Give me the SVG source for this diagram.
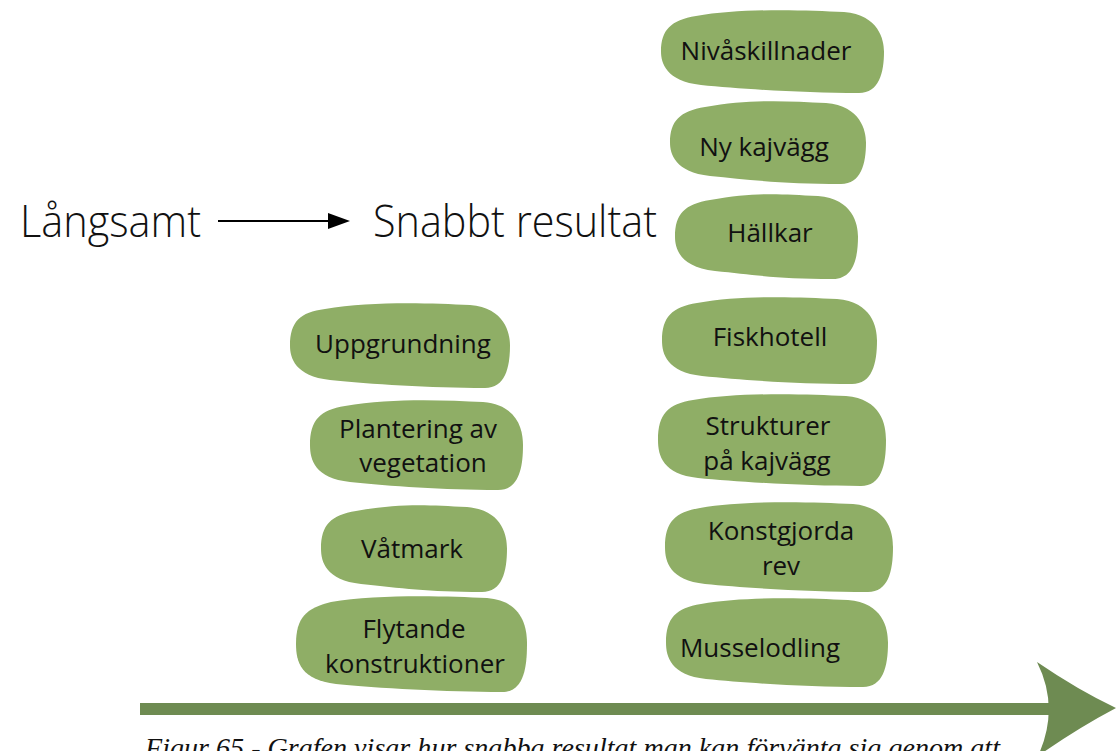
<svg xmlns="http://www.w3.org/2000/svg" width="1116" height="751" viewBox="0 0 1116 751">
<style>
.blob{fill:#8fae66;}
.lbl{font-family:"Open Sans","Noto Sans",sans-serif;font-size:26px;fill:#111;text-anchor:middle;}
.big{font-family:"Open Sans","Noto Sans",sans-serif;font-weight:300;font-size:44px;fill:#111;}
.cap{font-family:"Liberation Serif",serif;font-style:italic;font-size:27px;fill:#111;}
</style>
<defs>
<marker id="ah" viewBox="0 0 10 10" refX="10" refY="5" markerWidth="10" markerHeight="10" markerUnits="userSpaceOnUse" orient="auto">
<path d="M0,0 L10,5 L0,10 Z" fill="#000"/>
</marker>
</defs>
<rect width="1116" height="751" fill="#fff"/>
<text class="big" x="20" y="237" textLength="181" lengthAdjust="spacingAndGlyphs">Långsamt</text>
<text class="big" x="373" y="237" textLength="284" lengthAdjust="spacingAndGlyphs">Snabbt resultat</text>
<g id="connectors">
<line x1="218" y1="221" x2="332" y2="221" stroke="#000" stroke-width="2"/>
<path d="M328,213 L350,221 L328,229 Z" fill="#000"/>
<rect x="140" y="703" width="914" height="12" fill="#6e8b52"/>
<path d="M1037,662 Q1078,690 1116,708 Q1078,728 1038,756 Q1060,708 1037,662 Z" fill="#6e8b52"/>
</g>
<g id="n-nivaskillnader">
<path class="blob" d="M696,16 C741,8 804,10 844,12 C879,15 884,40 884,51.5 C884,73 879,93 859,93 C804,93 741,89 701,85 C666,81 661,63 661,51.5 C661,30 671,20 696,16 Z"/>
<text class="lbl" x="766" y="60">Nivåskillnader</text>
</g>
<g id="n-nykajvagg">
<path class="blob" d="M705,107 C750,99 786,101 826,103 C861,106 866,131 866,142.5 C866,164 861,184 841,184 C786,184 750,180 710,176 C675,172 670,154 670,142.5 C670,121 680,111 705,107 Z"/>
<text class="lbl" x="764" y="156">Ny kajvägg</text>
</g>
<g id="n-hallkar">
<path class="blob" d="M710,200 C755,192 778,194 818,196 C853,199 858,224 858,236.5 C858,259 853,279 833,279 C778,279 755,275 715,271 C680,267 675,249 675,236.5 C675,214 685,204 710,200 Z"/>
<text class="lbl" x="770" y="242">Hällkar</text>
</g>
<g id="n-fiskhotell">
<path class="blob" d="M697,303 C742,295 797,297 837,299 C872,302 877,327 877,340.5 C877,364 872,384 852,384 C797,384 742,380 702,376 C667,372 662,354 662,340.5 C662,317 672,307 697,303 Z"/>
<text class="lbl" x="770" y="346">Fiskhotell</text>
</g>
<g id="n-strukturer">
<path class="blob" d="M693,400 C738,392 806,394 846,396 C881,399 886,424 886,440 C886,466 881,486 861,486 C806,486 738,482 698,478 C663,474 658,456 658,440 C658,414 668,404 693,400 Z"/>
<text class="lbl" x="768" y="435">Strukturer</text>
<text class="lbl" x="767" y="470">på kajvägg</text>
</g>
<g id="n-konstgjorda">
<path class="blob" d="M700,508 C745,500 813,502 853,504 C888,507 893,532 893,547 C893,572 888,592 868,592 C813,592 745,588 705,584 C670,580 665,562 665,547 C665,522 675,512 700,508 Z"/>
<text class="lbl" x="781" y="540">Konstgjorda</text>
<text class="lbl" x="781" y="575">rev</text>
</g>
<g id="n-musselodling">
<path class="blob" d="M701,604 C746,596 808,598 848,600 C883,603 888,628 888,642.5 C888,667 883,687 863,687 C808,687 746,683 706,679 C671,675 666,657 666,642.5 C666,618 676,608 701,604 Z"/>
<text class="lbl" x="760" y="657">Musselodling</text>
</g>
<g id="n-uppgrundning">
<path class="blob" d="M325,309 C370,301 430,303 470,305 C505,308 510,333 510,345.5 C510,368 505,388 485,388 C430,388 370,384 330,380 C295,376 290,358 290,345.5 C290,322 300,312 325,309 Z"/>
<text class="lbl" x="403" y="353">Uppgrundning</text>
</g>
<g id="n-plantering">
<path class="blob" d="M345,406 C390,398 443,400 483,402 C518,405 523,430 523,445 C523,470 518,490 498,490 C443,490 390,486 350,482 C315,478 310,460 310,445 C310,420 320,410 345,406 Z"/>
<text class="lbl" x="418" y="438">Plantering av</text>
<text class="lbl" x="423" y="472">vegetation</text>
</g>
<g id="n-vatmark">
<path class="blob" d="M356,511 C401,503 427,505 467,507 C502,510 507,535 507,548.5 C507,572 502,592 482,592 C427,592 401,588 361,584 C326,580 321,562 321,548.5 C321,525 331,515 356,511 Z"/>
<text class="lbl" x="412" y="558">Våtmark</text>
</g>
<g id="n-flytande">
<path class="blob" d="M331,602 C376,594 447,596 487,598 C522,601 527,626 527,644 C527,672 522,692 502,692 C447,692 376,688 336,684 C301,680 296,662 296,644 C296,618 306,608 331,602 Z"/>
<text class="lbl" x="414" y="638">Flytande</text>
<text class="lbl" x="415" y="673">konstruktioner</text>
</g>
<text class="cap" x="145" y="757" textLength="855" lengthAdjust="spacingAndGlyphs">Figur 65 - Grafen visar hur snabba resultat man kan förvänta sig genom att</text>
</svg>
